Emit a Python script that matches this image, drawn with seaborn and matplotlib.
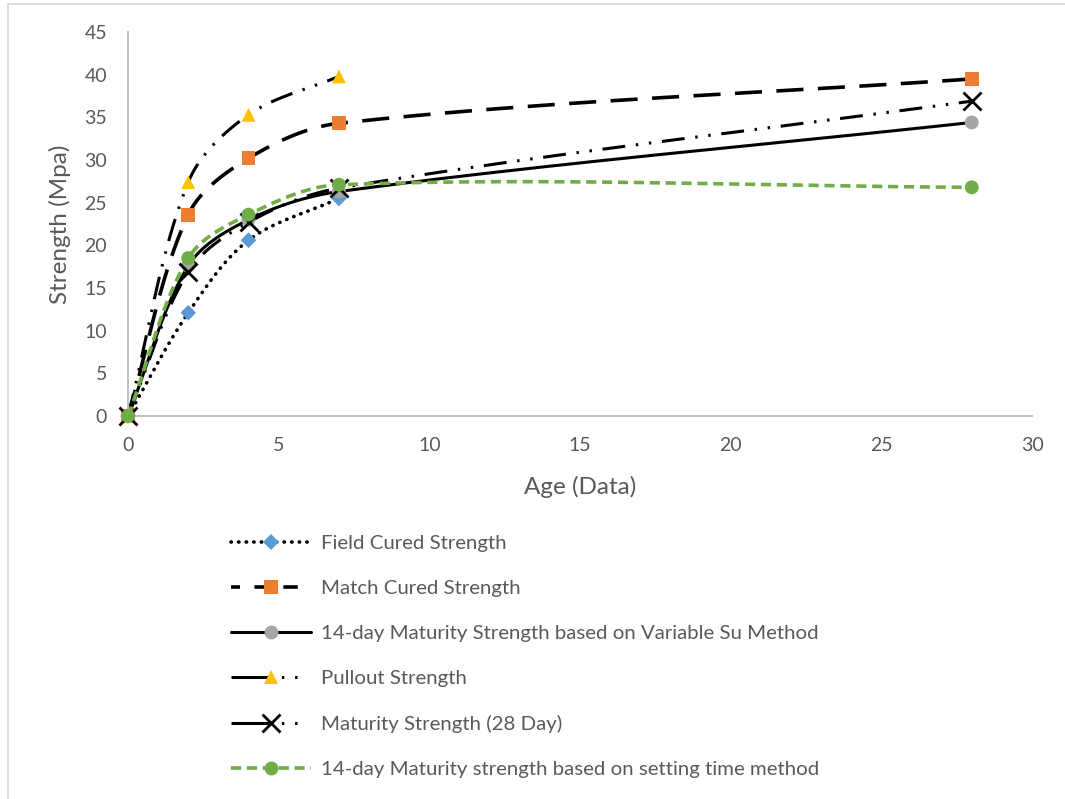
import numpy as np
import pandas as pd
import matplotlib
matplotlib.use("Agg")
import matplotlib.pyplot as plt
from matplotlib.lines import Line2D
from matplotlib.patches import Rectangle
import seaborn as sns

# Strength development data (age in days, strength in MPa)
age_field = [0, 2, 4, 7]
field_cured = [0, 12.1, 20.6, 25.5]

age_match = [0, 2, 4, 7, 28]
match_cured = [0, 23.6, 30.2, 34.3, 39.5]

age_variable_su = [0, 2, 4, 7, 28]
variable_su = [0, 17.6, 23.0, 26.3, 34.4]

age_pullout = [0, 2, 4, 7]
pullout = [0, 27.4, 35.3, 39.8]

age_maturity28 = [0, 2, 4, 7, 28]
maturity28 = [0, 16.9, 22.7, 26.7, 36.9]

age_setting = [0, 2, 4, 7, 28]
setting_time = [0, 18.5, 23.6, 27.1, 26.8]

labels = [
    "Field Cured Strength",
    "Match Cured Strength",
    "14-day Maturity Strength based on Variable Su Method",
    "Pullout Strength",
    "Maturity Strength (28 Day)",
    "14-day Maturity strength based on setting time method",
]

XMAX, YMAX = 30, 45
W, H = 1065, 799

sns.set_theme(style="white")
plt.rcParams["font.family"] = ["Lato", "DejaVu Sans"]

fig = plt.figure(figsize=(W / 100, H / 100), dpi=100)
ax = fig.add_axes([128 / W, 1 - 416 / H, (1032 - 128) / W, (416 - 32) / H])
ax.set_xlim(0, XMAX)
ax.set_ylim(0, YMAX)

# pixel scale of the axes, so the smoothing works in screen space
sx = (1032 - 128) / XMAX
sy = (416 - 32) / YMAX


def smooth(xs, ys, n=60):
    """Bezier smoothing through the points, tangents scaled by neighbouring chord lengths."""
    P = np.column_stack([np.asarray(xs, float) * sx, np.asarray(ys, float) * sy])
    m = len(P)
    tang = np.zeros_like(P)
    for i in range(m):
        a = P[i - 1] if i > 0 else P[i]
        b = P[i + 1] if i < m - 1 else P[i]
        d = np.linalg.norm(P[i] - a) + np.linalg.norm(b - P[i])
        tang[i] = (b - a) / d if d > 0 else 0
    out = [P[0]]
    for i in range(m - 1):
        p1, p2 = P[i], P[i + 1]
        L = np.linalg.norm(p2 - p1)
        c1 = p1 + tang[i] * L / 3.0
        c2 = p2 - tang[i + 1] * L / 3.0
        t = np.linspace(0, 1, n)[1:, None]
        seg = ((1 - t) ** 3) * p1 + 3 * ((1 - t) ** 2) * t * c1 + 3 * (1 - t) * t ** 2 * c2 + t ** 3 * p2
        out.extend(seg)
    out = np.array(out)
    return pd.DataFrame({"x": out[:, 0] / sx, "y": out[:, 1] / sy})


long_dash_dot_dot = (0, (7.5, 3.5, 0.8, 3.5, 0.8, 3.5))
series = [
    dict(x=age_field, y=field_cured, ls=(0, (0.1, 2.0)), lw=2.6, lc="black", cap="round",
         marker="D", mc="#5B9BD5", ms=8, mew=0, leg_ls=(0, (0.1, 2.0))),
    dict(x=age_match, y=match_cured, ls=(0, (7.5, 4)), lw=2.6, lc="black", cap="butt",
         marker="s", mc="#ED7D31", ms=10, mew=0, leg_ls=(1.5, (4, 4))),
    dict(x=age_variable_su, y=variable_su, ls="-", lw=2.2, lc="black", cap="butt",
         marker="o", mc="#A5A5A5", ms=10, mew=0, leg_ls="-"),
    dict(x=age_pullout, y=pullout, ls=long_dash_dot_dot, lw=2.2, lc="black", cap="butt",
         marker="^", mc="#FFC000", ms=10, mew=0, leg_ls=(0, (13, 3.5, 0.8, 3.5, 0.8, 8))),
    dict(x=age_maturity28, y=maturity28, ls=long_dash_dot_dot, lw=2.2, lc="black", cap="butt",
         marker="x", mc="black", ms=13, mew=2.0, leg_ls=(0, (13, 3.5, 0.8, 3.5, 0.8, 8))),
    dict(x=age_setting, y=setting_time, ls=(0, (2.8, 1.6)), lw=2.6, lc="#70AD47", cap="butt",
         marker="o", mc="#70AD47", ms=10, mew=0, leg_ls=(0, (2.8, 1.6))),
]

handles = []
for s, lab in zip(series, labels):
    curve = smooth(s["x"], s["y"])
    sns.lineplot(data=curve, x="x", y="y", ax=ax, sort=False, estimator=None, color=s["lc"],
                 linewidth=s["lw"], linestyle=s["ls"], dash_capstyle=s["cap"], clip_on=False,
                 legend=False)
    pts = pd.DataFrame({"x": s["x"], "y": s["y"]})
    if s["marker"] == "x":
        ax.plot(pts["x"], pts["y"], linestyle="none", marker="x", ms=s["ms"], mew=s["mew"],
                color=s["mc"], clip_on=False, zorder=4)
    else:
        sns.scatterplot(data=pts, x="x", y="y", ax=ax, marker=s["marker"], s=s["ms"] ** 2,
                        color=s["mc"], edgecolor="none", linewidth=0, clip_on=False, zorder=4,
                        legend=False)
    handles.append(Line2D([0], [0], color=s["lc"], linewidth=s["lw"], linestyle=s["leg_ls"],
                          dash_capstyle=s["cap"], marker=s["marker"], markersize=s["ms"],
                          markerfacecolor=s["mc"], markeredgecolor=s["mc"],
                          markeredgewidth=s["mew"], label=lab))

text_color = "#595959"
spine_color = "#BFBFBF"

ax.set_xticks(range(0, XMAX + 1, 5))
ax.set_yticks(range(0, YMAX + 1, 5))
ax.tick_params(axis="both", length=0, labelsize=14, colors=text_color, pad=15)
ax.grid(False)
for side in ("top", "right"):
    ax.spines[side].set_visible(False)
for side in ("left", "bottom"):
    ax.spines[side].set_color(spine_color)
    ax.spines[side].set_linewidth(1.4)

ax.set_xlabel("Age (Data)", fontsize=17.5, color=text_color, va="center")
ax.set_ylabel("Strength (Mpa)", fontsize=17.5, color=text_color, va="center")
ax.xaxis.set_label_coords(0.5, (416 - 487) / 384)
ax.yaxis.set_label_coords((60 - 128) / 904, 0.5)

leg = fig.legend(handles=handles, loc="upper left", bbox_to_anchor=(231 / W, 1 - 535 / H),
                 frameon=False, fontsize=14.7, labelcolor=text_color, handlelength=3.9,
                 handletextpad=0.5, labelspacing=1.36, borderaxespad=0, borderpad=0)

# chart-area frame
fig.patches.append(Rectangle((8 / W, -0.1), 1.2, 1 - 4 / H + 0.1, transform=fig.transFigure,
                             fill=False, edgecolor="#D9D9D9", linewidth=1.3))

fig.savefig("out.png", dpi=100, facecolor="white")
